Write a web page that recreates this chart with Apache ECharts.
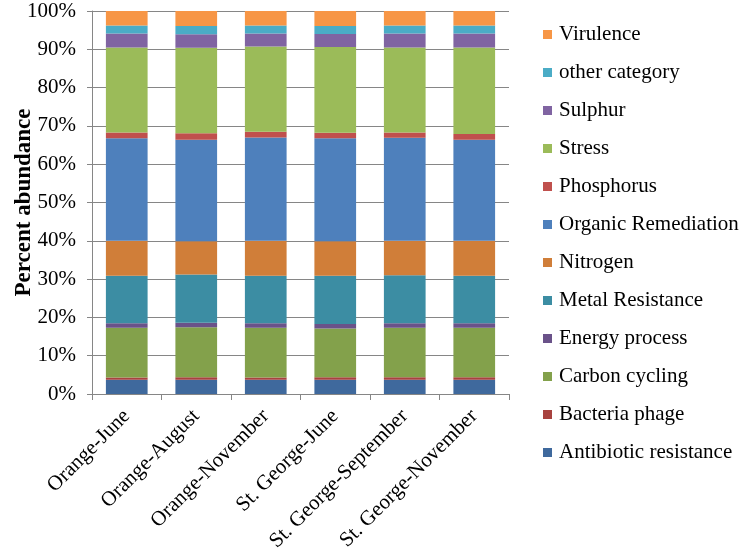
<!DOCTYPE html>
<html><head><meta charset="utf-8">
<script src="https://cdn.jsdelivr.net/npm/echarts@6/dist/echarts.min.js"></script>
<style>html,body{margin:0;padding:0;background:#fff}#c{width:742px;height:555px}</style>
</head><body><div id="c"></div>
<script>
var categories = ["Orange-June","Orange-August","Orange-November","St. George-June","St. George-September","St. George-November"];
var seriesNames = ["Antibiotic resistance","Bacteria phage","Carbon cycling","Energy process","Metal Resistance","Nitrogen","Organic Remediation","Phosphorus","Stress","Sulphur","other category","Virulence"];
var antibiotic = [3.7,3.7,3.7,3.7,3.7,3.7];
var phage      = [0.6,0.7,0.6,0.7,0.7,0.7];
var carbon     = [13.0,13.0,13.0,12.7,12.9,12.9];
var energy     = [1.2,1.2,1.2,1.2,1.2,1.2];
var metal      = [12.4,12.6,12.4,12.6,12.5,12.4];
var nitrogen   = [9.1,8.7,9.1,9.0,9.0,9.1];
var organic    = [26.8,26.5,27.0,26.9,26.9,26.4];
var phosphorus = [1.5,1.7,1.5,1.4,1.4,1.5];
var stress     = [22.2,22.3,22.2,22.4,22.2,22.6];
var sulphur    = [3.6,3.5,3.4,3.4,3.6,3.6];
var other      = [2.1,2.2,2.1,2.1,2.1,2.1];
var virulence  = [3.8,3.9,3.8,3.9,3.8,3.8];
var yTicks = [0,10,20,30,40,50,60,70,80,90,100];

var values = [antibiotic,phage,carbon,energy,metal,nitrogen,organic,phosphorus,stress,sulphur,other,virulence];
var colors = ["#3F699D","#A8423F","#83A14B","#6A5289","#3C8DA3","#D07E39","#4E80BC","#C0504D","#9BBB59","#8064A2","#4BACC6","#F79646"];
var font = "Liberation Serif";

var series = seriesNames.map(function(n,i){
  return {name:n,type:'bar',stack:'all',data:values[i],barCategoryGap:'40%',
    itemStyle:{color:colors[i]}};
});

var chart = echarts.init(document.getElementById('c'));
chart.setOption({
  animation:false,
  textStyle:{fontFamily:font},
  grid:{left:92,right:233,top:11,bottom:161,containLabel:false,outerBoundsMode:'none'},
  legend:{orient:'vertical',left:538,top:19,itemWidth:9,itemHeight:9,itemGap:17,icon:'rect',
    data:seriesNames.slice().reverse(),
    textStyle:{fontFamily:font,fontSize:21,color:'#000',padding:[0,0,0,2]}},
  xAxis:{type:'category',data:categories,
    axisLine:{lineStyle:{color:'#868686'}},
    axisTick:{show:true,alignWithLabel:false,length:6,lineStyle:{color:'#868686'}},
    axisLabel:{rotate:45,interval:0,fontFamily:font,fontSize:21,color:'#000',margin:19}},
  yAxis:{type:'value',min:0,max:100,interval:10,
    name:'Percent abundance',nameLocation:'middle',nameGap:56,nameRotate:90,nameMoveOverlap:false,
    nameTextStyle:{fontFamily:font,fontSize:23,fontWeight:'bold',color:'#000'},
    axisLine:{show:true,lineStyle:{color:'#868686'}},
    axisTick:{show:true,length:5,lineStyle:{color:'#868686'}},
    splitLine:{lineStyle:{color:'#868686'}},
    axisLabel:{formatter:'{value}%',fontFamily:font,fontSize:21,color:'#000',margin:16}},
  series:series
});
</script></body></html>
